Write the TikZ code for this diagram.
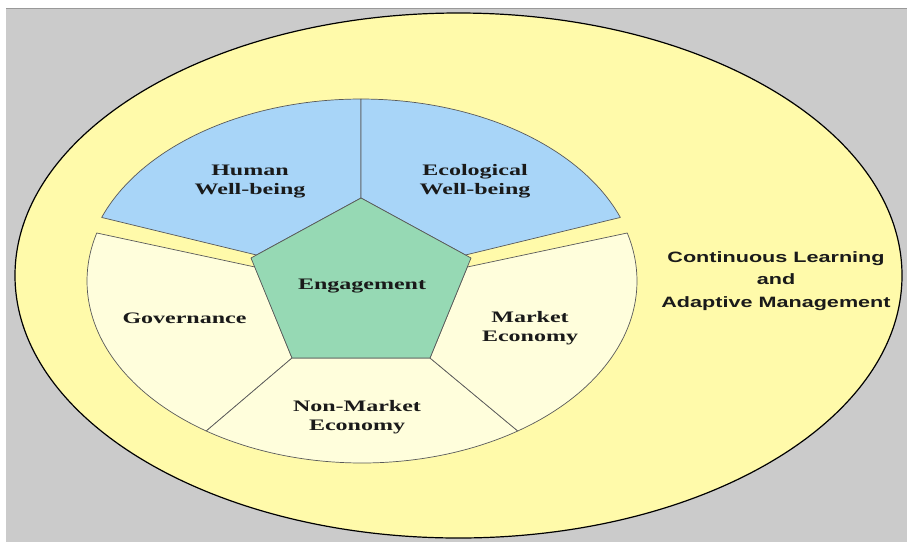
\documentclass[tikz,border=0pt]{standalone}
\usepackage{fontspec}
\setmainfont{Liberation Serif}
\setsansfont{Liberation Sans}
\definecolor{bggray}{HTML}{CBCBCB}
\definecolor{outeryellow}{HTML}{FFFAAA}
\definecolor{paleyellow}{HTML}{FFFEDC}
\definecolor{segblue}{HTML}{A8D5F8}
\definecolor{penggreen}{HTML}{96D9B4}
\definecolor{inktext}{HTML}{1A1A1A}
\newcommand{\stretchtext}[2]{\scalebox{#1}[1]{\begin{tabular}{@{}c@{}}#2\end{tabular}}}
\begin{document}
\begin{tikzpicture}[x=1pt,y=-1pt,
  seg/.style={draw=black!65, line width=0.7pt, line join=round},
  serifl/.style={font=\bfseries\fontsize{16}{19.5}\selectfont, text=inktext, inner sep=0pt},
  sansl/.style={font=\sffamily\bfseries\fontsize{15}{22.5}\selectfont, text=inktext, inner sep=0pt}]
\useasboundingbox (0,0) rectangle (907,542);
\fill[white] (0,0) rectangle (907,542);
\fill[bggray] (6,8) rectangle (907,542);
\draw[black!40, line width=1pt] (6,8.5) -- (907,8.5);
% outer ellipse
\draw[fill=outeryellow, line width=1.2pt] (458.5,275.5) ellipse [x radius=443.5pt, y radius=262.5pt];
% blue segments
\filldraw[seg, fill=segblue] (361,198) -- plot[domain=270:200, samples=50] ({361+276*cos(\x)},{279+180*sin(\x)}) -- (256.5,255) -- cycle;
\filldraw[seg, fill=segblue] (361,198) -- plot[domain=270:340, samples=50] ({361+276*cos(\x)},{279+180*sin(\x)}) -- (465.5,255) -- cycle;
% pale yellow segments
\filldraw[seg, fill=paleyellow] (255,267) -- plot[domain=195.3:124.5, samples=50] ({362+275*cos(\x)},{281+182*sin(\x)}) -- (292,358) -- cycle;
\filldraw[seg, fill=paleyellow] (292,358) -- plot[domain=124.5:55.5, samples=60] ({362+275*cos(\x)},{281+182*sin(\x)}) -- (430,358) -- cycle;
\filldraw[seg, fill=paleyellow] (430,358) -- plot[domain=55.5:-15.3, samples=50] ({362+275*cos(\x)},{281+182*sin(\x)}) -- (467.3,267) -- cycle;
% pentagon
\filldraw[seg, fill=penggreen] (361,198) -- (471,258) -- (430,358) -- (292,358) -- (251,258) -- cycle;
% labels
\node[serifl] (human) at (250,181) {\stretchtext{1.5}{Human\\Well-being}};
\node[serifl] (eco) at (475,181) {\stretchtext{1.5}{Ecological\\Well-being}};
\node[serifl] (eng) at (362,286) {\stretchtext{1.5}{Engagement}};
\node[serifl] (gov) at (184.5,320) {\stretchtext{1.5}{Governance}};
\node[serifl] (mkt) at (530,328) {\stretchtext{1.5}{Market\\Economy}};
\node[serifl] (nonmkt) at (357,417) {\stretchtext{1.5}{Non-Market\\Economy}};
\node[sansl] (clam) at (776,280) {\stretchtext{1.44}{Continuous Learning\\and\\Adaptive Management}};
\end{tikzpicture}
\end{document}
